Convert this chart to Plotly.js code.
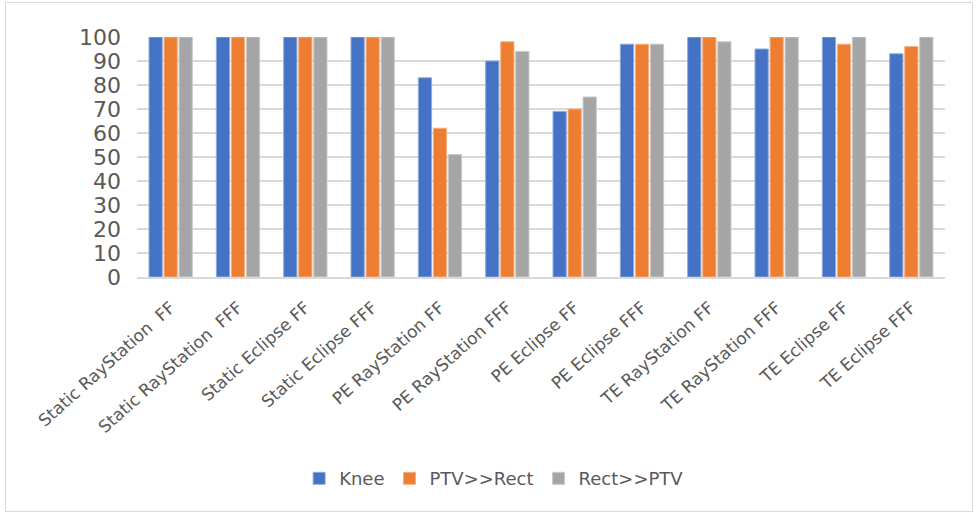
<!DOCTYPE html>
<html>
<head>
<meta charset="utf-8">
<script src="https://cdn.plot.ly/plotly-3.0.1.min.js"></script>
<style>
  html, body { margin: 0; padding: 0; background: #fff; }
  #chart { width: 978px; height: 518px; }
  #frame { position: absolute; left: 5px; top: 2px; width: 966px; height: 508px;
           border: 1px solid #d9d9d9; pointer-events: none; }
</style>
</head>
<body>
<div id="chart"></div>
<div id="frame"></div>
<script>
// Plan categories (delivery technique, planning system, beam energy)
const categories = [
  "Static RayStation\u00a0 FF", "Static RayStation\u00a0 FFF", "Static Eclipse FF", "Static Eclipse FFF",
  "PE RayStation FF", "PE RayStation FFF", "PE Eclipse FF", "PE Eclipse FFF",
  "TE RayStation FF", "TE RayStation FFF", "TE Eclipse FF", "TE Eclipse FFF"
];

// Percent values per structure
const knee     = [100, 100, 100, 100, 83, 90, 69, 97, 100, 95, 100, 93];
const ptvRect  = [100, 100, 100, 100, 62, 98, 70, 97, 100, 100, 97, 96];
const rectPtv  = [100, 100, 100, 100, 51, 94, 75, 97, 98, 100, 100, 100];

const seriesNames = ["Knee", "PTV>>Rect", "Rect>>PTV"];
const yTicks = [0, 10, 20, 30, 40, 50, 60, 70, 80, 90, 100];

const colors = ["#4472c4", "#ed7d31", "#a5a5a5"];
const outline = ["#8faadc", "#f4b183", "#c9c9c9"];

const traces = [knee, ptvRect, rectPtv].map((vals, i) => ({
  type: "bar",
  name: seriesNames[i],
  x: categories,
  y: vals,
  marker: { color: colors[i], line: { color: outline[i], width: 1 } },
  hoverinfo: "x+y+name"
}));

const textFont = "DejaVu Sans, Verdana, sans-serif";

const layout = {
  width: 978,
  height: 518,
  margin: { l: 137, r: 33, t: 37, b: 241 },
  paper_bgcolor: "#ffffff",
  plot_bgcolor: "#ffffff",
  font: { family: textFont, color: "#595959" },
  barmode: "group",
  bargap: 0.33,
  bargroupgap: 0.12,
  showlegend: true,
  legend: {
    orientation: "h",
    x: 0.442, xanchor: "center",
    y: -0.84, yanchor: "middle",
    font: { size: 18, color: "#595959", family: textFont },
    itemwidth: 30,
    traceorder: "normal"
  },
  xaxis: {
    type: "category",
    tickangle: -42,
    tickfont: { size: 17, color: "#595959", family: textFont },
    ticklabelstandoff: 12,
    showgrid: false,
    showline: true,
    linecolor: "#d9d9d9",
    linewidth: 2,
    ticks: "",
    fixedrange: true
  },
  yaxis: {
    range: [0, 100],
    tickvals: yTicks,
    ticktext: yTicks.map(String),
    tickfont: { size: 22, color: "#595959", family: textFont },
    ticklabelstandoff: 15,
    showgrid: true,
    gridcolor: "#d9d9d9",
    gridwidth: 2,
    zeroline: false,
    showline: false,
    ticks: "",
    ticklen: 0,
    fixedrange: true
  }
};

Plotly.newPlot("chart", traces, layout, { displayModeBar: false, staticPlot: true });
</script>
</body>
</html>
